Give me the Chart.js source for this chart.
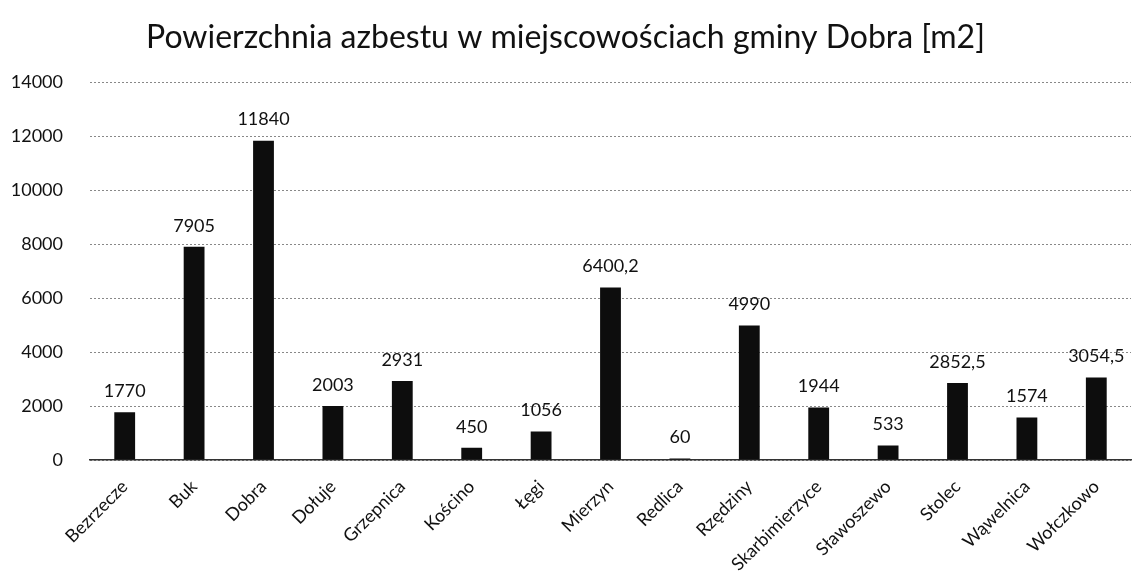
<!DOCTYPE html>
<html>
<head>
<meta charset="utf-8">
<script src="https://cdn.jsdelivr.net/npm/chart.js@4.4.1/dist/chart.umd.min.js"></script>
<style>
  html, body { margin: 0; padding: 0; background: #fff; }
  #wrap { width: 1133px; height: 587px; }
</style>
</head>
<body>
<div id="wrap"><canvas id="chart"></canvas></div>
<script>
// miejscowosci i powierzchnia [m2]
var villages = ['Bezrzecze', 'Buk', 'Dobra', 'Dołuje', 'Grzepnica', 'Kościno', 'Łęgi', 'Mierzyn',
    'Redlica', 'Rzędziny', 'Skarbimierzyce', 'Sławoszewo', 'Stolec', 'Wąwelnica', 'Wołczkowo'];
var area = [1770, 7905, 11840, 2003, 2931, 450, 1056, 6400.2, 60, 4990, 1944, 533, 2852.5, 1574, 3054.5];
var yTicks = [0, 2000, 4000, 6000, 8000, 10000, 12000, 14000];

var FONT = 'Lato, "Open Sans", sans-serif';

// etykiety wartosci nad slupkami
var valueLabels = {
    id: 'valueLabels',
    afterDatasetsDraw: function(chart){
        var ctx = chart.ctx;
        var meta = chart.getDatasetMeta(0);
        ctx.save();
        ctx.font = '18px ' + FONT;
        ctx.fillStyle = '#111';
        ctx.textAlign = 'center';
        ctx.textBaseline = 'bottom';
        meta.data.forEach(function(bar, i){
            var txt = String(area[i]).replace('.', ',');
            ctx.fillText(txt, bar.x, bar.y - 12);
        });
        ctx.restore();
    }
};

var ctx = document.getElementById('chart');

new Chart(ctx, {
    type: 'bar',
    data: {
        labels: villages,
        datasets: [{
            data: area,
            backgroundColor: '#0d0d0d',
            categoryPercentage: 1,
            barPercentage: 0.3
        }]
    },
    options: {
        responsive: true,
        maintainAspectRatio: false,
        animation: false,
        layout: { padding: { left: 0, right: 2, top: 0, bottom: 0 } },
        plugins: {
            legend: { display: false },
            tooltip: { enabled: false },
            title: {
                display: true,
                text: 'Powierzchnia azbestu w miejscowościach gminy Dobra [m2]',
                color: '#111',
                font: { family: FONT, size: 32, weight: 'normal' },
                padding: { top: 18, bottom: 26 }
            }
        },
        scales: {
            x: {
                grid: { display: false },
                border: { color: '#333', width: 1.5 },
                afterFit: function(axis){ axis.height = 127; },
                ticks: {
                    color: '#111',
                    font: { family: FONT, size: 18 },
                    maxRotation: 45,
                    minRotation: 45,
                    padding: 8
                }
            },
            y: {
                min: 0,
                max: 14000,
                afterBuildTicks: function(axis){
                    axis.ticks = yTicks.map(function(v){ return { value: v }; });
                },
                afterFit: function(axis){ axis.width = 90; },
                border: { display: false, dash: [2, 2] },
                grid: { color: '#888', lineWidth: 1, drawTicks: false },
                ticks: {
                    color: '#111',
                    font: { family: FONT, size: 18 },
                    padding: 27,
                    callback: function(v){ return String(v); }
                }
            }
        }
    },
    plugins: [valueLabels]
});
</script>
</body>
</html>
